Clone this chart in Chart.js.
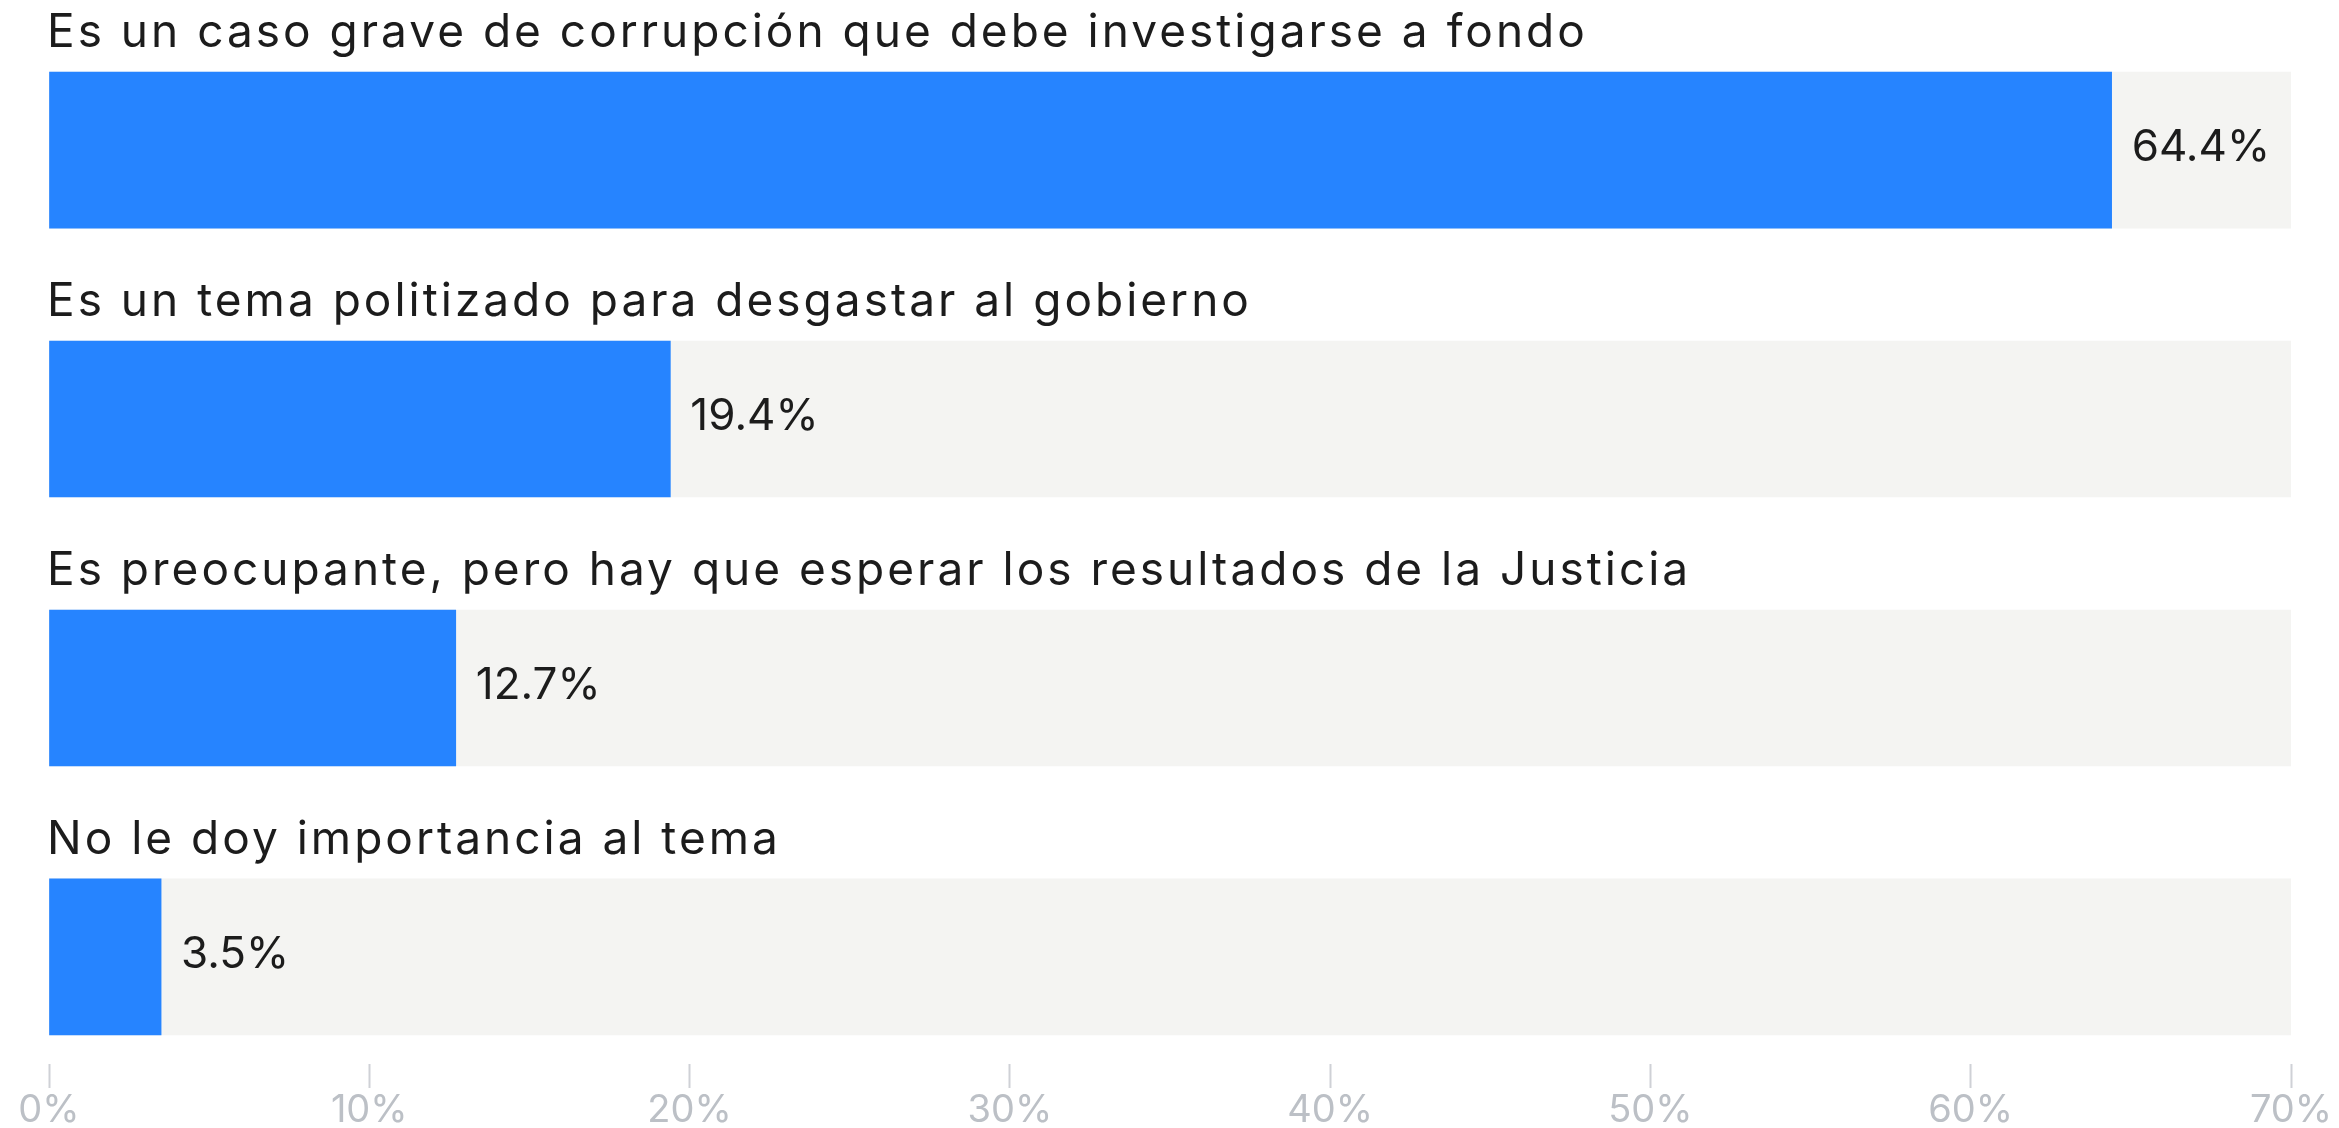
<!DOCTYPE html>
<html>
<head>
<meta charset="utf-8">
<script src="https://cdn.jsdelivr.net/npm/chart.js@4/dist/chart.umd.min.js"></script>
<style>
    html, body { margin: 0; padding: 0; background: #ffffff; }
    #wrap { width: 2339px; height: 1128px; position: relative; }
</style>
</head>
<body>
<div id="wrap"><canvas id="opinionChart"></canvas></div>
<script>
// Chart data
const categories = [
    'Es un caso grave de corrupción que debe investigarse a fondo',
    'Es un tema politizado para desgastar al gobierno',
    'Es preocupante, pero hay que esperar los resultados de la Justicia',
    'No le doy importancia al tema'
];
const values = [64.4, 19.4, 12.7, 3.5];
const trackValues = [70, 70, 70, 70];
const xTicks = [0, 10, 20, 30, 40, 50, 60, 70];

const FONT = 'Inter, "DejaVu Sans", sans-serif';

// ============================================================================
// LABELS PLUGIN (category above bar, value after bar)
// ============================================================================

const barLabels = {
    id: 'barLabels',
    afterDatasetsDraw(chart) {
        const ctx = chart.ctx;
        const meta = chart.getDatasetMeta(0);
        ctx.save();
        ctx.fillStyle = '#1c1c1c';
        ctx.textAlign = 'left';
        meta.data.forEach((bar, i) => {
            const top = bar.y - bar.height / 2;
            ctx.font = '46px ' + FONT;
            ctx.letterSpacing = '3px';
            ctx.textBaseline = 'alphabetic';
            ctx.fillText(categories[i], chart.chartArea.left - 2, top - 25);
            ctx.font = '44px ' + FONT;
            ctx.letterSpacing = '0px';
            ctx.textBaseline = 'middle';
            ctx.fillText(values[i].toFixed(1) + '%', bar.x + 20, bar.y - 2);
        });
        ctx.restore();
    }
};

new Chart(document.getElementById('opinionChart'), {
    type: 'bar',
    data: {
        datasets: [{
            label: 'Respuestas',
            data: values.map((v, i) => ({ x: v, y: i })),
            backgroundColor: '#2684ff',
            borderWidth: 0,
            grouped: false,
            barThickness: 156
        }, {
            label: 'Fondo',
            data: trackValues.map((v, i) => ({ x: v, y: i })),
            backgroundColor: '#f4f4f2',
            borderWidth: 0,
            grouped: false,
            barThickness: 156
        }]
    },
    options: {
        indexAxis: 'y',
        responsive: true,
        maintainAspectRatio: false,
        animation: false,
        layout: {
            padding: { left: 49, right: 48, top: 0, bottom: 0 }
        },
        plugins: {
            legend: { display: false },
            tooltip: { enabled: false }
        },
        scales: {
            y: {
                type: 'linear',
                display: false,
                reverse: true,
                offset: false,
                min: -0.558,
                max: 3.398
            },
            x: {
                type: 'linear',
                position: 'bottom',
                min: 0,
                max: 70,
                afterBuildTicks: (scale) => {
                    scale.ticks = xTicks.map(v => ({ value: v }));
                },
                afterFit: (scale) => {
                    scale.height = 64;
                },
                border: { display: false },
                grid: {
                    drawOnChartArea: false,
                    drawTicks: true,
                    tickLength: 24,
                    tickWidth: 2,
                    tickColor: '#cfd1d6'
                },
                ticks: {
                    color: '#bcc0c6',
                    padding: 4,
                    font: { family: FONT, size: 38, lineHeight: 1 },
                    maxRotation: 0,
                    callback: (v) => v + '%'
                }
            }
        }
    },
    plugins: [barLabels]
});
</script>
</body>
</html>
